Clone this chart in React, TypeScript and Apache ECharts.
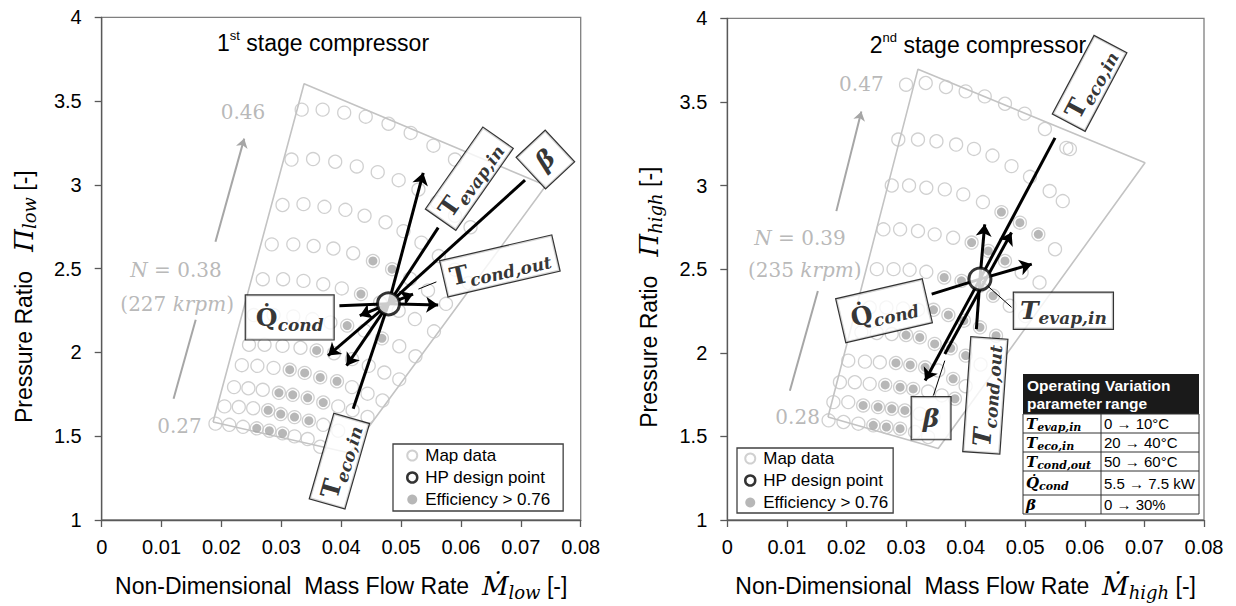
import React, { useEffect, useRef } from "react";
import * as echarts from "echarts";

type P = [number, number];

// ---------------- 1st stage compressor (low) : map data [mass flow, pressure ratio] ----------------
const low1: P[] = [[0.0334, 3.449], [0.0369, 3.449], [0.0405, 3.431], [0.0441, 3.407], [0.0479, 3.365], [0.0516, 3.31], [0.0554, 3.234], [0.059, 3.151]];
const low2: P[] = [[0.0317, 3.151], [0.0353, 3.154], [0.039, 3.138], [0.0426, 3.11], [0.0461, 3.076], [0.0496, 3.028], [0.0529, 2.972], [0.056, 2.897], [0.059, 2.816], [0.0616, 2.747]];
const low3: P[] = [[0.0302, 2.88], [0.0337, 2.885], [0.0372, 2.869], [0.0407, 2.851], [0.0439, 2.816], [0.0474, 2.777], [0.0504, 2.724], [0.0534, 2.655], [0.0563, 2.575], [0.059, 2.494], [0.0613, 2.414]];
const low4: P[] = [[0.0284, 2.645], [0.032, 2.645], [0.0354, 2.635], [0.0387, 2.62], [0.042, 2.592], [0.0453, 2.546], [0.0485, 2.497], [0.0515, 2.44], [0.0545, 2.37], [0.0575, 2.29]];
const low5: P[] = [[0.0269, 2.437], [0.0303, 2.437], [0.0337, 2.427], [0.037, 2.407], [0.0401, 2.382], [0.0433, 2.348], [0.0465, 2.298], [0.0496, 2.249], [0.0523, 2.199], [0.0555, 2.126]];
const low6: P[] = [[0.0254, 2.223], [0.0287, 2.223], [0.032, 2.215], [0.0352, 2.199], [0.0382, 2.179], [0.041, 2.16], [0.0439, 2.13], [0.0468, 2.084], [0.0497, 2.037], [0.0524, 1.977]];
const low7: P[] = [[0.0246, 2.046], [0.0272, 2.046], [0.0302, 2.039], [0.0332, 2.028], [0.0359, 2.012], [0.0388, 1.995], [0.0418, 1.96], [0.0446, 1.92], [0.0472, 1.88], [0.0497, 1.839]];
const low8: P[] = [[0.0234, 1.924], [0.026, 1.92], [0.0287, 1.908], [0.0314, 1.897], [0.0339, 1.878], [0.0365, 1.851], [0.0393, 1.828], [0.0418, 1.793], [0.0444, 1.754], [0.0469, 1.713]];
const low9: P[] = [[0.0221, 1.793], [0.0245, 1.786], [0.0269, 1.777], [0.0296, 1.759], [0.0319, 1.747], [0.0344, 1.729], [0.037, 1.701], [0.0395, 1.678], [0.0419, 1.655], [0.0444, 1.615]];
const low10: P[] = [[0.0205, 1.678], [0.0229, 1.674], [0.0253, 1.667], [0.0278, 1.655], [0.0299, 1.632], [0.0322, 1.614], [0.0346, 1.593], [0.037, 1.568], [0.0395, 1.533]];
const low11: P[] = [[0.019, 1.575], [0.0213, 1.568], [0.0236, 1.556], [0.0259, 1.547], [0.028, 1.533], [0.0302, 1.517], [0.0322, 1.499], [0.0344, 1.483], [0.0365, 1.437]];
const lowRows: P[][] = [low1, low2, low3, low4, low5, low6, low7, low8, low9, low10, low11];

const lowEfficient: P[] = [
  [0.0453, 2.546], [0.0485, 2.497], [0.0433, 2.348], [0.041, 2.16], [0.0468, 2.084], [0.0359, 2.012],
  [0.0314, 1.897], [0.0339, 1.878], [0.0365, 1.851], [0.0393, 1.828],
  [0.0296, 1.759], [0.0319, 1.747], [0.0344, 1.729], [0.037, 1.701],
  [0.0278, 1.655], [0.0299, 1.632], [0.0322, 1.614], [0.0346, 1.593],
  [0.0259, 1.547], [0.028, 1.533], [0.0302, 1.517],
];
const lowEnvelope: P[] = [[0.0186, 1.585], [0.0338, 3.603], [0.0742, 2.996], [0.0414, 1.4], [0.0186, 1.585]];
const lowDesign: P = [0.0479, 2.29];

// ---------------- 2nd stage compressor (high) ----------------
const high1: P[] = [[0.03, 3.603], [0.0333, 3.613], [0.0367, 3.589], [0.04, 3.563], [0.0432, 3.533], [0.0466, 3.489], [0.0499, 3.43], [0.0533, 3.338], [0.0569, 3.225], [0.0575, 3.218]];
const high2: P[] = [[0.0287, 3.275], [0.032, 3.275], [0.0351, 3.265], [0.0384, 3.245], [0.0414, 3.219], [0.0445, 3.179], [0.0477, 3.116], [0.0508, 3.052], [0.0541, 2.967], [0.0563, 2.907]];
const high3: P[] = [[0.0276, 3.0], [0.0305, 3.0], [0.0334, 2.987], [0.0365, 2.977], [0.0396, 2.947], [0.0429, 2.901], [0.046, 2.841], [0.0491, 2.778], [0.0522, 2.708], [0.055, 2.619]];
const high4: P[] = [[0.0262, 2.738], [0.029, 2.738], [0.032, 2.728], [0.0348, 2.708], [0.0379, 2.688], [0.041, 2.659], [0.0438, 2.609], [0.0466, 2.549], [0.0494, 2.48], [0.0524, 2.42]];
const high5: P[] = [[0.0251, 2.5], [0.0279, 2.5], [0.0306, 2.496], [0.0334, 2.484], [0.0364, 2.45], [0.0393, 2.43], [0.0424, 2.4], [0.0446, 2.341], [0.0474, 2.281], [0.05, 2.22]];
const high6: P[] = [[0.0239, 2.271], [0.0267, 2.271], [0.0295, 2.265], [0.032, 2.257], [0.0346, 2.257], [0.0371, 2.226], [0.0397, 2.192], [0.0424, 2.152], [0.0451, 2.102]];
const high7: P[] = [[0.0225, 2.122], [0.0251, 2.118], [0.0276, 2.112], [0.03, 2.106], [0.0323, 2.092], [0.0348, 2.053], [0.0375, 2.027], [0.04, 1.983], [0.0425, 1.93]];
const high8: P[] = [[0.0203, 1.953], [0.0231, 1.947], [0.0256, 1.943], [0.0283, 1.939], [0.0307, 1.927], [0.0332, 1.913], [0.0354, 1.894], [0.0379, 1.844], [0.04, 1.8]];
const high9: P[] = [[0.0189, 1.824], [0.0214, 1.824], [0.0239, 1.814], [0.0265, 1.808], [0.029, 1.794], [0.0312, 1.784], [0.0337, 1.768], [0.036, 1.745], [0.0382, 1.725]];
const high10: P[] = [[0.0178, 1.705], [0.0203, 1.705], [0.0228, 1.685], [0.0253, 1.675], [0.0276, 1.665], [0.0298, 1.655], [0.0323, 1.635], [0.0346, 1.616]];
const high11: P[] = [[0.017, 1.596], [0.0195, 1.586], [0.022, 1.576], [0.0245, 1.566], [0.0267, 1.556], [0.029, 1.546], [0.0315, 1.526], [0.0337, 1.496]];
const highRows: P[][] = [high1, high2, high3, high4, high5, high6, high7, high8, high9, high10, high11];

const highEfficient: P[] = [
  [0.046, 2.841], [0.0491, 2.778], [0.0522, 2.708],
  [0.041, 2.659], [0.0438, 2.609], [0.0466, 2.549],
  [0.0364, 2.45], [0.0393, 2.43], [0.0424, 2.4], [0.0446, 2.341],
  [0.0346, 2.257], [0.0371, 2.226], [0.0397, 2.192], [0.0424, 2.152], [0.0451, 2.102],
  [0.03, 2.106], [0.0323, 2.092], [0.0348, 2.053], [0.0375, 2.027], [0.04, 1.983],
  [0.0283, 1.939], [0.0307, 1.927], [0.0332, 1.913], [0.0379, 1.844],
  [0.0265, 1.808], [0.029, 1.794], [0.0312, 1.784], [0.0382, 1.725],
  [0.0228, 1.685], [0.0253, 1.675], [0.0276, 1.665], [0.0298, 1.655],
  [0.0245, 1.566], [0.0267, 1.556], [0.029, 1.546],
];
const highEnvelope: P[] = [[0.0169, 1.616], [0.032, 3.696], [0.0701, 3.136], [0.0354, 1.427], [0.0169, 1.616]];
const highDesign: P = [0.0424, 2.4405];

// ---------------- annotations (data coordinates) ----------------
const lowArrowEnds: P[] = [[0.0537, 3.072], [0.0562, 2.283], [0.0378, 1.981], [0.0409, 1.921], [0.052, 2.348], [0.0431, 2.219]];
const lowLineEnds: P[] = [[0.0562, 2.745], [0.0707, 3.028], [0.0397, 2.278], [0.042, 1.664]];
const lowLeaders: P[][] = [[[0.0529, 2.378], [0.0559, 2.421]]];
const highArrows: P[][] = [[highDesign, [0.0332, 1.834]], [highDesign, [0.0432, 2.768]], [[0.0365, 1.993], [0.0477, 2.719]], [highDesign, [0.0511, 2.53]]];
const highLines: P[][] = [[[0.055, 3.285], highDesign], [[0.0343, 2.351], highDesign], [highDesign, [0.0418, 2.142]]];
const highLeaders: P[][] = [[highDesign, [0.0477, 2.272]], [[0.0346, 1.745], [0.0365, 1.953]]];

const lowSpeedArrow: P[] = [[0.019, 2.66], [0.0238, 3.276]];
const lowSpeedTail: P[] = [[0.012, 1.724], [0.0157, 2.195]];
const highSpeedArrow: P[] = [[0.0183, 2.847], [0.0225, 3.443]];
const highSpeedTail: P[] = [[0.0105, 1.773], [0.0152, 2.369]];

const lowSpeedTexts = ["0.46", "{i|N} = 0.38", "(227 {i|krpm})", "0.27"];
const lowSpeedAt: P[] = [[0.0236, 3.437], [0.0124, 2.494], [0.0126, 2.287], [0.013, 1.563]];
const highSpeedTexts = ["0.47", "{i|N} = 0.39", "(235 {i|krpm})", "0.28"];
const highSpeedAt: P[] = [[0.0225, 3.609], [0.0122, 2.688], [0.013, 2.497], [0.0118, 1.615]];

const lowBoxTexts = ["{T|Q\u0307}{s|cond}", "{T|T}{s|evap,in}", "{b|β}", "{T|T}{s|cond,out}", "{T|T}{s|eco,in}"];
const lowBoxAt: P[] = [[0.0314, 2.209], [0.0614, 3.037], [0.0741, 3.151], [0.0665, 2.516], [0.0397, 1.351]];
const lowBoxRotate = [0, 55, 43, 13, 74];
const highBoxTexts = ["{T|T}{s|eco,in}", "{T|Q\u0307}{s|cond}", "{Ti|T}{s|evap,in}", "{Ti|T}{s|cond,out}", "{b|β}"];
const highBoxAt: P[] = [[0.0608, 3.611], [0.0263, 2.251], [0.0564, 2.251], [0.0433, 1.745], [0.0342, 1.609]];
const highBoxRotate = [62, 13, 0, 86, 0];

const tableHeader = [["Operating", "parameter"], ["Variation", "range"]];
const tableParams = ["{T|T}{s|evap,in}", "{T|T}{s|eco,in}", "{T|T}{s|cond,out}", "{T|Q\u0307}{s|cond}", "{T|β}"];
const tableRanges = ["0 → 10°C", "20 → 40°C", "50 → 60°C", "5.5 → 7.5 kW", "0 → 30%"];

const legendNames = ["Map data", "HP design point", "Efficiency > 0.76"];

// ---------------- styling ----------------
const SANS = '"Liberation Sans", Arial, sans-serif';
const SERIF = '"DejaVu Serif", serif';
const GRAY_TXT = "#a6a6a6";

const boxRich = {
  T: { fontFamily: SERIF, fontWeight: "bold", fontSize: 25, lineHeight: 32, color: "#000" },
  Ti: { fontFamily: SERIF, fontWeight: "bold", fontStyle: "italic", fontSize: 25, lineHeight: 32, color: "#000" },
  s: { fontFamily: SERIF, fontWeight: "bold", fontStyle: "italic", fontSize: 17, lineHeight: 18, verticalAlign: "bottom", color: "#000" },
  b: { fontFamily: SERIF, fontWeight: "bold", fontStyle: "italic", fontSize: 25, lineHeight: 34, color: "#000" },
};

function axes(idx: number, sub: string) {
  const line = { color: "#595959", width: 1.3 };
  const nameRich = {
    m: { fontFamily: SERIF, fontStyle: "italic", fontSize: 26, lineHeight: 30, color: "#000" },
    s: { fontFamily: SERIF, fontStyle: "italic", fontSize: 18, lineHeight: 17, verticalAlign: "bottom", color: "#000" },
  };
  const x = {
    gridIndex: idx, type: "value", min: 0, max: 0.08, interval: 0.01,
    axisLine: { show: true, onZero: false, lineStyle: line },
    axisTick: { show: true, length: 7, lineStyle: line },
    splitLine: { show: false },
    axisLabel: { fontFamily: SANS, fontSize: 20, color: "#000", margin: 17, formatter: (v: number) => String(Number(v.toFixed(2))) },
    name: `Non-Dimensional  Mass Flow Rate  {m|Ṁ}{s|${sub}} [-]`,
    nameLocation: "middle", nameGap: 51,
    nameTextStyle: { fontFamily: SANS, fontSize: 23, color: "#000", lineHeight: 30, rich: nameRich },
  };
  const y = {
    gridIndex: idx, type: "value", min: 1, max: 4, interval: 0.5,
    axisLine: { show: true, onZero: false, lineStyle: line },
    axisTick: { show: true, length: 7, lineStyle: line },
    splitLine: { show: false },
    axisLabel: { fontFamily: SANS, fontSize: 20, color: "#000", margin: 20 },
    name: `Pressure Ratio   {m|Π}{s|${sub}} [-]`,
    nameLocation: "middle", nameRotate: 90, nameGap: 63,
    nameTextStyle: { fontFamily: SANS, fontSize: 23, color: "#000", lineHeight: 30, padding: [0, 56, 0, 0], rich: nameRich },
  };
  return { x, y };
}

function plotSeries(
  p: number, rows: P[][], eff: P[], envelope: P[], design: P,
  arrows: P[][], lines: P[][], leaders: P[][],
  speedArrow: P[], speedTail: P[], speedTexts: string[], speedAt: P[],
  boxTexts: string[], boxAt: P[], boxRot: number[]
) {
  const ax = { xAxisIndex: p, yAxisIndex: p };
  const black = { color: "#000", width: 3, opacity: 1, curveness: 0 };
  return [
    { type: "line", ...ax, data: envelope, symbol: "none", silent: true, z: 1, lineStyle: { color: "#c3c3c3", width: 1.6 } },
    { type: "scatter", name: "Map data", ...ax, data: rows.flat(), symbol: "circle", symbolSize: 13, z: 2,
      itemStyle: { color: "rgba(255,255,255,0)", borderColor: "#c4c4c4", borderWidth: 1.3 } },
    { type: "scatter", name: "Efficiency > 0.76", ...ax, data: eff, symbol: "circle", symbolSize: 9, z: 3,
      itemStyle: { color: "#a5a5a5" } },
    { type: "lines", coordinateSystem: "cartesian2d", ...ax, data: [{ coords: speedArrow }], symbol: ["none", "arrow"], symbolSize: 9, z: 2,
      lineStyle: { color: "#a6a6a6", width: 2, opacity: 1, curveness: 0 } },
    { type: "lines", coordinateSystem: "cartesian2d", ...ax, data: [{ coords: speedTail }], symbol: "none", z: 2,
      lineStyle: { color: "#a6a6a6", width: 2, opacity: 1, curveness: 0 } },
    { type: "lines", coordinateSystem: "cartesian2d", ...ax, data: arrows.map((c) => ({ coords: c })), symbol: ["none", "arrow"], symbolSize: 12, z: 5, lineStyle: black },
    { type: "lines", coordinateSystem: "cartesian2d", ...ax, data: lines.map((c) => ({ coords: c })), symbol: "none", z: 5, lineStyle: black },
    { type: "lines", coordinateSystem: "cartesian2d", ...ax, data: leaders.map((c) => ({ coords: c })), symbol: "none", z: 5,
      lineStyle: { color: "#000", width: 1, opacity: 1, curveness: 0 } },
    { type: "scatter", name: "HP design point", ...ax, data: [design], symbol: "circle", symbolSize: 22, z: 8,
      itemStyle: { color: "#fff", borderColor: "#000", borderWidth: 3 } },
    { type: "scatter", ...ax, symbolSize: 1, z: 9, silent: true, itemStyle: { color: "rgba(0,0,0,0)" },
      data: boxAt.map((at, i) => ({
        value: at,
        label: {
          show: true, position: "inside", formatter: boxTexts[i], rotate: boxRot[i],
          backgroundColor: "#fff", borderColor: "#000", borderWidth: 1.2,
          padding: boxTexts[i].startsWith("{b|") ? [4, 11, 4, 11] : boxTexts[i].includes("Q") ? [6, 10, 6, 10] : [2, 6, 2, 6],
          rich: boxRich,
        },
      })) },
    { type: "scatter", ...ax, symbolSize: 1, z: 4, silent: true, itemStyle: { color: "rgba(0,0,0,0)" },
      data: speedAt.map((at, i) => ({
        value: at,
        label: {
          show: true, position: "inside", formatter: speedTexts[i],
          fontFamily: SERIF, fontSize: 20, color: GRAY_TXT,
          rich: { i: { fontFamily: SERIF, fontStyle: "italic", fontSize: 20, color: GRAY_TXT } },
        },
      })) },
  ];
}

function buildTable() {
  const x0 = 1023, x1 = 1199, xc = 1101, top = 374;
  const rowLines = [414, 433, 452, 471, 495, 514];
  const els: any[] = [];
  els.push({ type: "rect", shape: { x: x0, y: top, width: x1 - x0, height: rowLines[0] - top }, style: { fill: "#1a1a1a" }, z: 100 });
  els.push({ type: "rect", shape: { x: x0, y: rowLines[0], width: x1 - x0, height: rowLines[5] - rowLines[0] }, style: { fill: "#fff", stroke: "#333", lineWidth: 1 }, z: 100 });
  for (let i = 1; i < rowLines.length - 1; i++) {
    els.push({ type: "line", shape: { x1: x0, y1: rowLines[i], x2: x1, y2: rowLines[i] }, style: { stroke: "#333", lineWidth: 1 }, z: 101 });
  }
  els.push({ type: "line", shape: { x1: xc, y1: rowLines[0], x2: xc, y2: rowLines[5] }, style: { stroke: "#333", lineWidth: 1 }, z: 101 });
  tableHeader.forEach((col, c) => {
    col.forEach((t, r) => {
      els.push({ type: "text", x: c === 0 ? x0 + 4 : xc + 4, y: top + 11 + r * 18, z: 102,
        style: { text: t, fill: "#fff", font: "bold 15.5px 'Liberation Sans'", align: "left", verticalAlign: "middle" } });
    });
  });
  const cellRich = {
    T: { fontFamily: SERIF, fontWeight: "bold", fontStyle: "italic", fontSize: 15, lineHeight: 18, fill: "#000", color: "#000" },
    s: { fontFamily: SERIF, fontWeight: "bold", fontStyle: "italic", fontSize: 11, lineHeight: 11, verticalAlign: "bottom", fill: "#000", color: "#000" },
  };
  tableParams.forEach((t, i) => {
    const cy = (rowLines[i] + rowLines[i + 1]) / 2;
    els.push({ type: "text", x: x0 + 3, y: cy, z: 102,
      style: { text: t, rich: cellRich, fill: "#000", align: "left", verticalAlign: "middle" } });
    els.push({ type: "text", x: xc + 3, y: cy, z: 102,
      style: { text: tableRanges[i], fill: "#000", font: "15px 'Liberation Sans'", align: "left", verticalAlign: "middle" } });
  });
  return els;
}

function legendFor(left: number, top: number, padding: number[]) {
  return {
    left, top, orient: "vertical", selectedMode: false,
    itemWidth: 10, itemHeight: 10, itemGap: 3, padding,
    backgroundColor: "#fff", borderColor: "#404040", borderWidth: 1.3, z: 20,
    textStyle: { fontFamily: SANS, fontSize: 17, color: "#000", lineHeight: 19, padding: [0, 0, 0, 3] },
    data: [
      { name: legendNames[0] },
      { name: legendNames[1], itemStyle: { borderWidth: 2.5 } },
      { name: legendNames[2] },
    ],
  };
}

function buildOption() {
  const a0 = axes(0, "low");
  const a1 = axes(1, "high");
  const titleRich = {
    n: { fontFamily: SANS, fontSize: 23, fontWeight: "normal", color: "#000", lineHeight: 28 },
    sup: { fontFamily: SANS, fontSize: 13, fontWeight: "normal", color: "#000", lineHeight: 14, verticalAlign: "top" },
  };
  return {
    animation: false,
    backgroundColor: "#fff",
    title: [
      { text: "{n|1}{sup|st}{n| stage compressor}", left: 323, top: 29, textAlign: "center", padding: 0,
        textStyle: { fontWeight: "normal", fontFamily: SANS, fontSize: 23, rich: titleRich } },
      { text: "{n|2}{sup|nd}{n| stage compressor}", left: 978, top: 31, textAlign: "center", padding: 0,
        textStyle: { fontWeight: "normal", fontFamily: SANS, fontSize: 23, rich: titleRich } },
    ],
    grid: [
      { left: 101.7, top: 17.3, width: 479, height: 504.4, show: true, borderColor: "#7f7f7f", borderWidth: 1.3, backgroundColor: "transparent" },
      { left: 727.3, top: 18.3, width: 476.7, height: 503.4, show: true, borderColor: "#7f7f7f", borderWidth: 1.3, backgroundColor: "transparent" },
    ],
    xAxis: [a0.x, a1.x],
    yAxis: [a0.y, a1.y],
    legend: [legendFor(393, 444, [2, 13, 2, 13]), legendFor(737, 448, [1, 5, 1, 7])],
    series: [
      ...plotSeries(0, lowRows, lowEfficient, lowEnvelope, lowDesign,
        lowArrowEnds.map((e) => [lowDesign, e]),
        lowLineEnds.map((e, i) => (i === 2 ? [e, lowDesign] : [lowDesign, e])),
        lowLeaders, lowSpeedArrow, lowSpeedTail, lowSpeedTexts, lowSpeedAt, lowBoxTexts, lowBoxAt, lowBoxRotate),
      ...plotSeries(1, highRows, highEfficient, highEnvelope, highDesign,
        highArrows, highLines, highLeaders, highSpeedArrow, highSpeedTail, highSpeedTexts, highSpeedAt, highBoxTexts, highBoxAt, highBoxRotate),
    ],
    graphic: buildTable(),
  };
}

export default function App() {
  const ref = useRef<HTMLDivElement>(null);
  useEffect(() => {
    const chart = echarts.init(ref.current as HTMLDivElement, undefined, { renderer: "svg" });
    chart.setOption(buildOption() as any);
    return () => chart.dispose();
  }, []);
  return <div ref={ref} style={{ position: "fixed", left: 0, top: 0, width: 1236, height: 606, background: "#fff" }} />;
}
